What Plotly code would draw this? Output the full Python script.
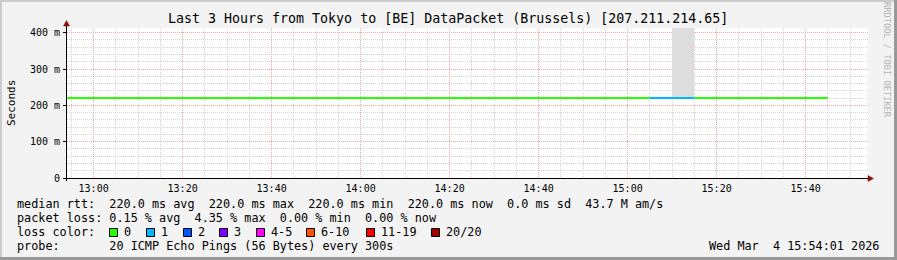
import plotly.graph_objects as go
import pandas as pd

# ---------------- data ----------------
DAY = "2026-03-04"
times = ["12:50", "12:55", "13:00", "13:05", "13:10", "13:15", "13:20", "13:25",
         "13:30", "13:35", "13:40", "13:45", "13:50", "13:55", "14:00", "14:05",
         "14:10", "14:15", "14:20", "14:25", "14:30", "14:35", "14:40", "14:45",
         "14:50", "14:55", "15:00", "15:05", "15:10", "15:15", "15:20", "15:25",
         "15:30", "15:35", "15:40"]
median_ms = [220.0, 220.0, 220.0, 220.0, 220.0, 220.0, 220.0, 220.0,
             220.0, 220.0, 220.0, 220.0, 220.0, 220.0, 220.0, 220.0,
             220.0, 220.0, 220.0, 220.0, 220.0, 220.0, 220.0, 220.0,
             220.0, 220.0, 220.0, 220.0, 220.0, 220.0, 220.0, 220.0,
             220.0, 220.0, 220.0]
lost_pings = [0, 0, 0, 0, 0, 0, 0, 0,
              0, 0, 0, 0, 0, 0, 0, 0,
              0, 0, 0, 0, 0, 0, 0, 0,
              0, 0, 0, 1, 1, 0, 0, 0,
              0, 0, 0]
smoke_max_ms = [220.0, 220.0, 220.0, 220.0, 220.0, 220.0, 220.0, 220.0,
                220.0, 220.0, 220.0, 220.0, 220.0, 220.0, 220.0, 220.0,
                220.0, 220.0, 220.0, 220.0, 220.0, 220.0, 220.0, 220.0,
                220.0, 220.0, 220.0, 220.0, 480.0, 220.0, 220.0, 220.0,
                220.0, 220.0, 220.0]

loss_labels = ["0", "1", "2", "3", "4-5", "6-10", "11-19", "20/20"]
loss_upper = [0, 1, 2, 3, 5, 10, 19, 20]
loss_colors = ["#26ff00", "#00b8ff", "#0059ff", "#7e00ff", "#ff00ff", "#ff5500", "#ff0000", "#a10000"]

y_tick_vals = [0, 100, 200, 300, 400]
y_tick_text = ["0", "100 m", "200 m", "300 m", "400 m"]

title_text = "Last 3 Hours from Tokyo to [BE] DataPacket (Brussels) [207.211.214.65]"
legend_rows = [
    "median rtt:  220.0 ms avg  220.0 ms max  220.0 ms min  220.0 ms now  0.0 ms sd  43.7 M am/s",
    "packet loss: 0.15 % avg  4.35 % max  0.00 % min  0.00 % now",
    "loss color:",
    "probe:       20 ICMP Echo Pings (56 Bytes) every 300s",
]
date_text = "Wed Mar  4 15:54:01 2026"
watermark = "RRDTOOL / TOBI OETIKER"

# ---------------- layout constants ----------------
W, H = 897, 260
L, R, T, B = 67, 868, 28, 178
FONT = "DejaVu Sans Mono"


def px(x):
    return (x - L) / (R - L)


def py(y):
    return (B - y) / (B - T)


def nb(s):
    return s.replace(" ", "\u00a0")


t_start = pd.to_datetime([f"{DAY} {t}" for t in times])
step = pd.Timedelta(minutes=5)


def bucket(n):
    for i, u in enumerate(loss_upper):
        if n <= u:
            return i
    return len(loss_upper) - 1


fig = go.Figure()

# smoke (spread of ping values)
fig.add_trace(go.Bar(
    x=[t + step / 2 for t in t_start],
    base=median_ms,
    y=[hi - m for hi, m in zip(smoke_max_ms, median_ms)],
    width=step.total_seconds() * 1000,
    marker=dict(color="#dddddd", line=dict(width=0)),
    showlegend=False, hoverinfo="skip",
))

# median line coloured by loss
codes = [bucket(n) for n in lost_pings]
for ci, col in enumerate(loss_colors):
    xs, ys = [], []
    i = 0
    while i < len(times):
        if codes[i] == ci:
            j = i
            while j + 1 < len(times) and codes[j + 1] == ci and median_ms[j + 1] == median_ms[i]:
                j += 1
            xs += [t_start[i], t_start[j] + step, None]
            ys += [median_ms[i], median_ms[j], None]
            i = j + 1
        else:
            i += 1
    if xs:
        fig.add_trace(go.Scatter(x=xs, y=ys, mode="lines",
                                 line=dict(color=col, width=2),
                                 showlegend=False, hoverinfo="skip"))

major_grid = "#f2a8a8"
minor_grid = "#d4d4d4"

fig.update_layout(
    width=W, height=H,
    margin=dict(l=L, r=W - R, t=T, b=H - B, autoexpand=False, pad=0),
    paper_bgcolor="#f3f3f3",
    plot_bgcolor="#ffffff",
    font=dict(family=FONT, color="#000000", size=10),
    showlegend=False,
    bargap=0,
    xaxis=dict(
        type="date",
        range=[f"{DAY} 12:54:01", f"{DAY} 15:54:01"],
        tick0=f"{DAY} 13:00", dtick=20 * 60 * 1000,
        tickformat="%H:%M",
        showgrid=True, gridcolor=major_grid, griddash="1px,1px", gridwidth=1,
        minor=dict(tick0=f"{DAY} 12:55", dtick=5 * 60 * 1000, showgrid=True,
                   gridcolor=minor_grid, griddash="1px,1px", gridwidth=1),
        showline=False, zeroline=False, ticks="",
        tickfont=dict(family=FONT, size=10),
        ticklabelstandoff=3,
    ),
    yaxis=dict(
        range=[0, 413],
        tickvals=y_tick_vals, ticktext=y_tick_text,
        showgrid=True, gridcolor=major_grid, griddash="1px,1px", gridwidth=1,
        minor=dict(dtick=20, tick0=0, showgrid=True, gridcolor=minor_grid,
                   griddash="1px,1px", gridwidth=1),
        showline=False, zeroline=False,
        ticks="outside", ticklen=3, tickcolor="#000000", tickwidth=1,
        tickfont=dict(family=FONT, size=10),
        ticklabelstandoff=1,
    ),
)

shapes = []
# frame shading
shapes.append(dict(type="rect", xref="paper", yref="paper", x0=px(0), x1=px(W), y0=py(0), y1=py(2),
                   fillcolor="#cbcbcb", line=dict(width=0), layer="above"))
shapes.append(dict(type="rect", xref="paper", yref="paper", x0=px(0), x1=px(2), y0=py(0), y1=py(H),
                   fillcolor="#cbcbcb", line=dict(width=0), layer="above"))
shapes.append(dict(type="rect", xref="paper", yref="paper", x0=px(0), x1=px(W), y0=py(H - 3), y1=py(H),
                   fillcolor="#999999", line=dict(width=0), layer="above"))
shapes.append(dict(type="rect", xref="paper", yref="paper", x0=px(W - 3), x1=px(W), y0=py(0), y1=py(H),
                   fillcolor="#999999", line=dict(width=0), layer="above"))
# axes
shapes.append(dict(type="line", xref="paper", yref="paper", x0=px(66.5), x1=px(66.5), y0=py(24), y1=py(181),
                   line=dict(color="#000000", width=1), layer="above"))
shapes.append(dict(type="line", xref="paper", yref="paper", x0=px(63), x1=px(869), y0=py(178.5), y1=py(178.5),
                   line=dict(color="#000000", width=1), layer="above"))
# arrows
shapes.append(dict(type="path", xref="paper", yref="paper",
                   path=f"M {px(63.5)},{py(26)} L {px(66.5)},{py(20.5)} L {px(69.5)},{py(26)} Z",
                   fillcolor="#8b1010", line=dict(color="#8b1010", width=0.5), layer="above"))
shapes.append(dict(type="path", xref="paper", yref="paper",
                   path=f"M {px(868)},{py(175.5)} L {px(873.5)},{py(178.5)} L {px(868)},{py(181.5)} Z",
                   fillcolor="#8b1010", line=dict(color="#8b1010", width=0.5), layer="above"))

# loss colour swatches
swatch_x = [109, 146, 183, 219, 256, 306, 366, 431]
for sx, col in zip(swatch_x, loss_colors):
    shapes.append(dict(type="rect", xref="paper", yref="paper",
                       x0=px(sx + 0.5), x1=px(sx + 8.5), y0=py(228.5), y1=py(236.5),
                       fillcolor=col, line=dict(color="#000000", width=1), layer="above"))
fig.update_layout(shapes=shapes)

ann = []
ann.append(dict(text=nb(title_text), x=px(448), y=py(19), xref="paper", yref="paper",
                xanchor="center", yanchor="middle", showarrow=False,
                font=dict(family=FONT, size=13.3, color="#000000")))
ann.append(dict(text="Seconds", x=px(11), y=py(103), xref="paper", yref="paper",
                xanchor="center", yanchor="middle", showarrow=False, textangle=-90,
                font=dict(family=FONT, size=11, color="#000000")))
ann.append(dict(text=nb(watermark), x=px(887), y=py(60), xref="paper", yref="paper",
                xanchor="center", yanchor="middle", showarrow=False, textangle=90,
                font=dict(family=FONT, size=8.7, color="#b4b4b4")))
row_y = [204.3, 218.3, 232.3, 246.3]
for txt, yy in zip(legend_rows, row_y):
    ann.append(dict(text=nb(txt), x=px(15), y=py(yy), xref="paper", yref="paper",
                    xanchor="left", yanchor="middle", showarrow=False,
                    font=dict(family=FONT, size=11.8, color="#000000")))
for sx, lab in zip(swatch_x, loss_labels):
    ann.append(dict(text=nb(lab), x=px(sx + 13), y=py(232.3), xref="paper", yref="paper",
                    xanchor="left", yanchor="middle", showarrow=False,
                    font=dict(family=FONT, size=11.8, color="#000000")))
ann.append(dict(text=nb(date_text), x=px(881), y=py(246.3), xref="paper", yref="paper",
                xanchor="right", yanchor="middle", showarrow=False,
                font=dict(family=FONT, size=11.8, color="#000000")))
fig.update_layout(annotations=ann)

fig.write_html("out.html")
